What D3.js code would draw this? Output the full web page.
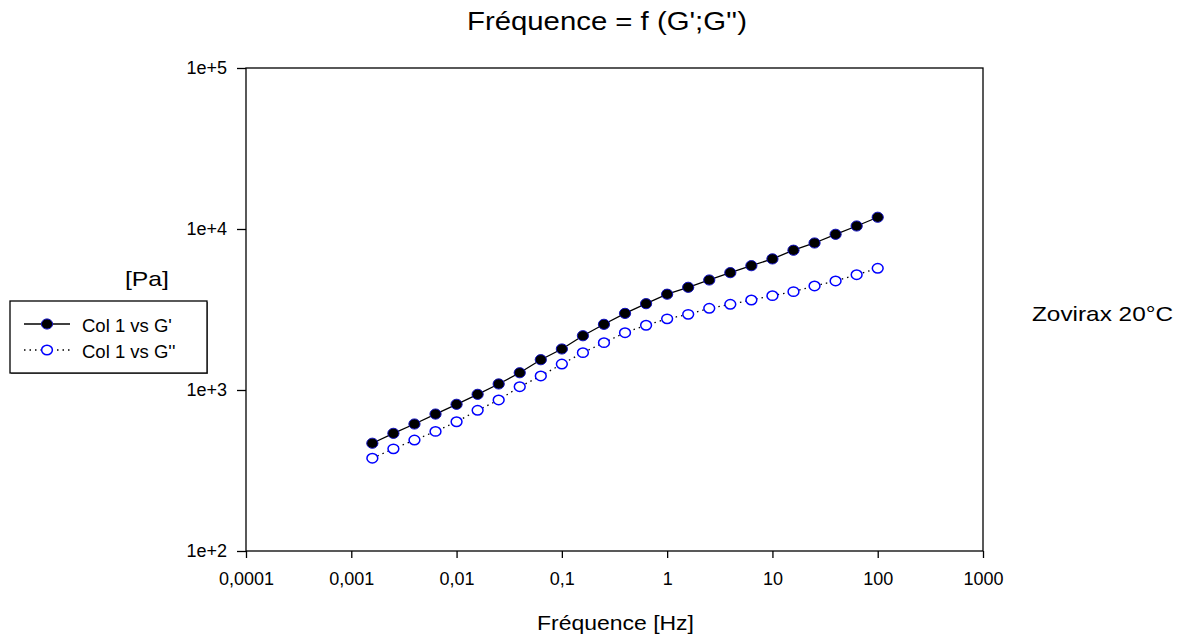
<!DOCTYPE html>
<html><head><meta charset="utf-8">
<script src="https://cdn.jsdelivr.net/npm/d3@7"></script>
<style>body{margin:0;background:#fff;}svg text{font-family:"Liberation Sans",Arial,sans-serif;fill:#000;}</style>
</head><body>
<svg id="c" width="1181" height="634"></svg>
<script>
const freqExp = [-2.8,-2.6,-2.4,-2.2,-2.0,-1.8,-1.6,-1.4,-1.2,-1.0,-0.8,-0.6,-0.4,-0.2,0,0.2,0.4,0.6,0.8,1.0,1.2,1.4,1.6,1.8,2.0];
const gPrime = [467,538,615,709,815,940,1090,1280,1542,1798,2173,2559,2992,3436,3936,4344,4823,5356,5918,6520,7383,8188,9270,10440,11830];
const gDouble = [377,431,489,553,635,748,867,1048,1222,1449,1706,1968,2270,2524,2766,2951,3216,3406,3622,3854,4083,4428,4756,5200,5700];
const xTicks = [0.0001,0.001,0.01,0.1,1,10,100,1000];
const xTickLabels = ["0,0001","0,001","0,01","0,1","1","10","100","1000"];
const yTicks = [100,1000,10000,100000];
const yTickLabels = ["1e+2","1e+3","1e+4","1e+5"];
const seriesNames = ["Col 1 vs G'","Col 1 vs G''"];

const freq = freqExp.map(e => Math.pow(10, e));
const svg = d3.select("#c");
const L=246, R=983, T=68, B=551;
const x = d3.scaleLog().domain([1e-4,1e3]).range([L,R]);
const y = d3.scaleLog().domain([1e2,1e5]).range([B,T]);

svg.append("rect").attr("x",L).attr("y",T).attr("width",R-L).attr("height",B-T)
  .attr("fill","none").attr("stroke","#000").attr("stroke-width",1.3);

const xAxis = svg.append("g").attr("transform",`translate(0,${B})`)
  .call(d3.axisBottom(x).tickValues(xTicks).tickFormat((d,i)=>xTickLabels[i]).tickSize(7).tickPadding(14).tickSizeOuter(0));
const yAxis = svg.append("g").attr("transform",`translate(${L},0)`)
  .call(d3.axisLeft(y).tickValues(yTicks).tickFormat((d,i)=>yTickLabels[i]).tickSize(9).tickPadding(10).tickSizeOuter(0));
[xAxis,yAxis].forEach(a=>{
  a.select(".domain").remove();
  a.selectAll("line").attr("stroke","#000").attr("stroke-width",1.3);
  a.selectAll("text").style("font-size","18px").attr("fill","#000");
});

const line = d3.line().x((d,i)=>x(freq[i])).y(d=>y(d));
svg.append("path").datum(gPrime).attr("d",line).attr("fill","none").attr("stroke","#000").attr("stroke-width",1.3);
svg.append("path").datum(gDouble).attr("d",line).attr("fill","none").attr("stroke","#000").attr("stroke-width",1.3).attr("stroke-dasharray","1.5,4");

svg.selectAll("ellipse.g2").data(gDouble).enter().append("ellipse")
  .attr("cx",(d,i)=>x(freq[i])).attr("cy",d=>y(d)).attr("rx",5.4).attr("ry",4.7)
  .attr("fill","#fff").attr("stroke","#0000ff").attr("stroke-width",1.5);
svg.selectAll("ellipse.g1").data(gPrime).enter().append("ellipse")
  .attr("cx",(d,i)=>x(freq[i])).attr("cy",d=>y(d)).attr("rx",5.6).attr("ry",5.1)
  .attr("fill","#000").attr("stroke","#1010c0").attr("stroke-width",1);

function label(xp, yp, size, width, txt){
  svg.append("text").attr("x",xp).attr("y",yp).style("font-size",size+"px")
    .attr("textLength",width).attr("lengthAdjust","spacingAndGlyphs").text(txt);
}
label(467, 30, 25, 280, "Fréquence = f (G';G'')");
label(537, 630, 21, 157, "Fréquence [Hz]");
label(125, 286, 21, 44, "[Pa]");
label(1032, 321, 21, 141, "Zovirax 20°C");

const lg = svg.append("g");
lg.append("rect").attr("x",11).attr("y",302).attr("width",197).attr("height",72).attr("fill","#777");
lg.append("rect").attr("x",10).attr("y",301).attr("width",197).attr("height",72).attr("fill","#fff").attr("stroke","#000").attr("stroke-width",1.3);
const ly = [324, 350];
lg.append("line").attr("x1",24).attr("x2",70).attr("y1",ly[0]).attr("y2",ly[0]).attr("stroke","#000").attr("stroke-width",1.3);
lg.append("ellipse").attr("cx",47).attr("cy",ly[0]).attr("rx",5.6).attr("ry",5.1).attr("fill","#000").attr("stroke","#1010c0");
lg.append("line").attr("x1",24).attr("x2",70).attr("y1",ly[1]).attr("y2",ly[1]).attr("stroke","#000").attr("stroke-width",1.3).attr("stroke-dasharray","1.5,4");
lg.append("ellipse").attr("cx",47).attr("cy",ly[1]).attr("rx",5.4).attr("ry",4.7).attr("fill","#fff").attr("stroke","#0000ff").attr("stroke-width",1.5);
seriesNames.forEach((n,i)=>{
  lg.append("text").attr("x",82).attr("y",ly[i]+7.5).style("font-size","18.5px").text(n);
});
</script>
</body></html>
